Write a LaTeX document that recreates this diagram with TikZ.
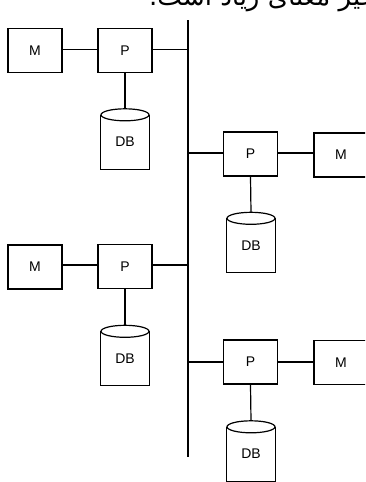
\documentclass[tikz,border=0pt]{standalone}
\usepackage{fontspec}
\setmainfont{Liberation Sans}
\newfontfamily\arabicfont[Script=Arabic]{DejaVu Sans}
\TeXXeTstate=1
\begin{document}
\begin{tikzpicture}[x=1pt,y=1pt,
  box/.style={draw, line width=1.2pt, minimum width=54pt, minimum height=44pt, inner sep=0pt, font=\fontsize{14}{16}\selectfont},
  dbnode/.style={minimum width=48pt, minimum height=60pt, inner sep=0pt},
  dbtext/.style={font=\fontsize{14}{16}\selectfont, inner sep=0pt},
  wire/.style={line width=1.2pt}]
\useasboundingbox (0,0) rectangle (365,-482);
\clip (0,0) rectangle (365,-482);
% title (cut off, as in the reference)
\node[anchor=base west, inner sep=0pt, font=\arabicfont\fontsize{26}{30}\selectfont] (title) at (149,-5) {\beginR تأخیر معنای زیاد است.\endR};
% bus
\coordinate (bustop) at (188,-20);
\coordinate (busbot) at (188,-457);
\draw[wire] (bustop) -- (busbot);
\newcommand\dbcyl[1]{%
  \draw[wire] ([yshift=-6pt]#1.north west) -- (#1.south west) -- (#1.south east) -- ([yshift=-6pt]#1.north east);
  \draw[wire] ([yshift=-6pt]#1.north) ellipse [x radius=24pt, y radius=6pt];
  \node[dbtext] (#1-t) at ([yshift=-3pt]#1.center) {DB};}
% group 1 (top left)
\node[box] (m1) at (35,-50.5) {M};
\node[box] (p1) at (125,-50.5) {P};
\node[dbnode] (db1) at (125,-139) {};
\coordinate (b1) at (188,-49.5);
\draw[wire] (m1.east |- b1) -- (p1.west |- b1);
\draw[wire] (p1.east |- b1) -- (b1);
\draw[wire] (p1.south) -- (db1.north);
\dbcyl{db1}
% group 2 (right, upper)
\node[box] (p2) at (250.5,-154) {P};
\node[box] (m2) at (341,-155) {M};
\node[dbnode] (db2) at (251,-242.5) {};
\coordinate (b2) at (188,-153);
\draw[wire] (b2) -- (p2.west |- b2);
\draw[wire] (p2.east |- b2) -- (m2.west |- b2);
\draw[wire] (p2.south) -- (db2.north);
\dbcyl{db2}
% group 3 (left, lower)
\node[box] (m3) at (35,-267) {M};
\node[box] (p3) at (125,-266.5) {P};
\node[dbnode] (db3) at (125,-355.5) {};
\coordinate (b3) at (188,-265);
\draw[wire] (m3.east |- b3) -- (p3.west |- b3);
\draw[wire] (p3.east |- b3) -- (b3);
\draw[wire] (p3.south) -- (db3.north);
\dbcyl{db3}
% group 4 (right, lower)
\node[box] (p4) at (250.5,-362) {P};
\node[box] (m4) at (341,-362.5) {M};
\node[dbnode] (db4) at (251,-451) {};
\coordinate (b4) at (188,-362);
\draw[wire] (b4) -- (p4.west |- b4);
\draw[wire] (p4.east |- b4) -- (m4.west |- b4);
\draw[wire] (p4.south) -- (db4.north);
\dbcyl{db4}
\end{tikzpicture}
\end{document}
